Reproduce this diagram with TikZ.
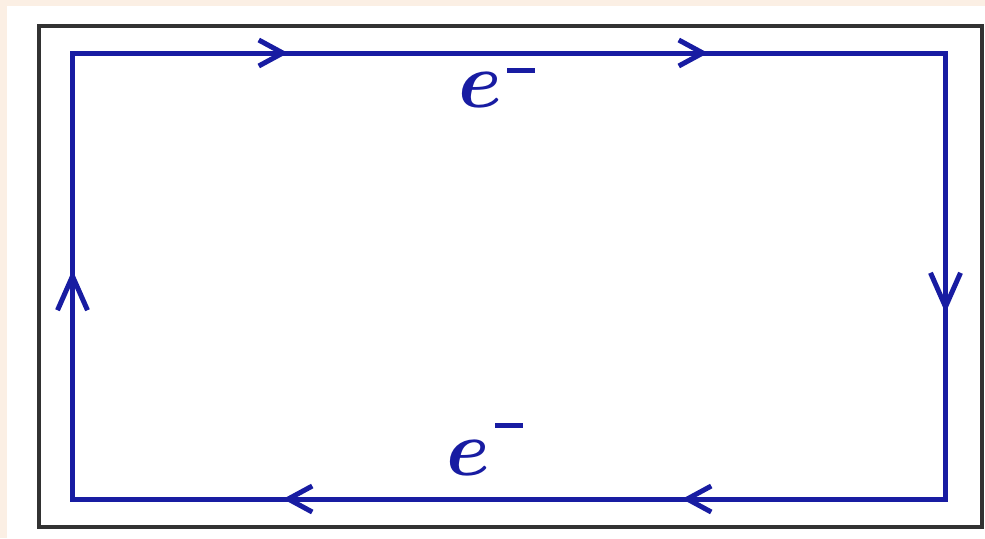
\documentclass[tikz,border=0pt]{standalone}
\usepackage{amsmath,amssymb}
\usepackage{xcolor}
\usepackage{tikz}
\usetikzlibrary{arrows.meta}
\definecolor{wireblue}{RGB}{24,28,162}
\definecolor{paper}{RGB}{251,239,228}
\definecolor{framegray}{RGB}{50,50,50}
\tikzset{
  wire/.style={draw=wireblue, line width=2.5pt, line join=miter},
  flow/.style={wire, -{Straight Barb[length=12pt, width=13pt, line width=2.5pt]}},
  vflow/.style={wire, -{Straight Barb[length=17pt, width=15pt, line width=2.5pt]}},
  charge/.style={text=wireblue, font=\huge\boldmath, scale=1.9, inner sep=0pt},
  box/.style={draw=framegray, line width=2pt, fill=white},
}

\begin{document}
\begin{tikzpicture}[x=0.5pt, y=-0.5pt]
\fill[paper] (0,0) rectangle (985,538);
\fill[white] (7,6) rectangle (985,538);
\useasboundingbox (0,0) rectangle (985,538);
\draw[box] (39,25.5) rectangle (982,527);
% loop corners
\coordinate (tl) at (72.5,53);
\coordinate (tr) at (945.5,53);
\coordinate (br) at (945.5,499);
\coordinate (bl) at (72.5,499);
% arrow tips along the loop
\coordinate (t1) at (288,53);
\coordinate (t2) at (708,53);
\coordinate (r1) at (945.5,313);
\coordinate (b1) at (283,499);
\coordinate (b2) at (682,499);
\coordinate (l1) at (72.5,270);
\draw[wire] (tl) -- (tr) -- (br) -- (bl) -- cycle;
\draw[flow] (tl) -- (t1);
\draw[flow] (t1) -- (t2);
\draw[vflow] (tr) -- (r1);
\draw[flow] (b2) -- (b1);
\draw[flow] (br) -- (b2);
\draw[vflow] (bl) -- (l1);
\node[charge, anchor=base west] (etop) at (458,107) {$e$\hspace{1.3pt}\rule[8.9pt]{7.4pt}{1.4pt}};
\node[charge, anchor=base west] (ebot) at (446,475) {$e$\hspace{1.3pt}\rule[12.4pt]{7.4pt}{1.4pt}};
\end{tikzpicture}
\end{document}
